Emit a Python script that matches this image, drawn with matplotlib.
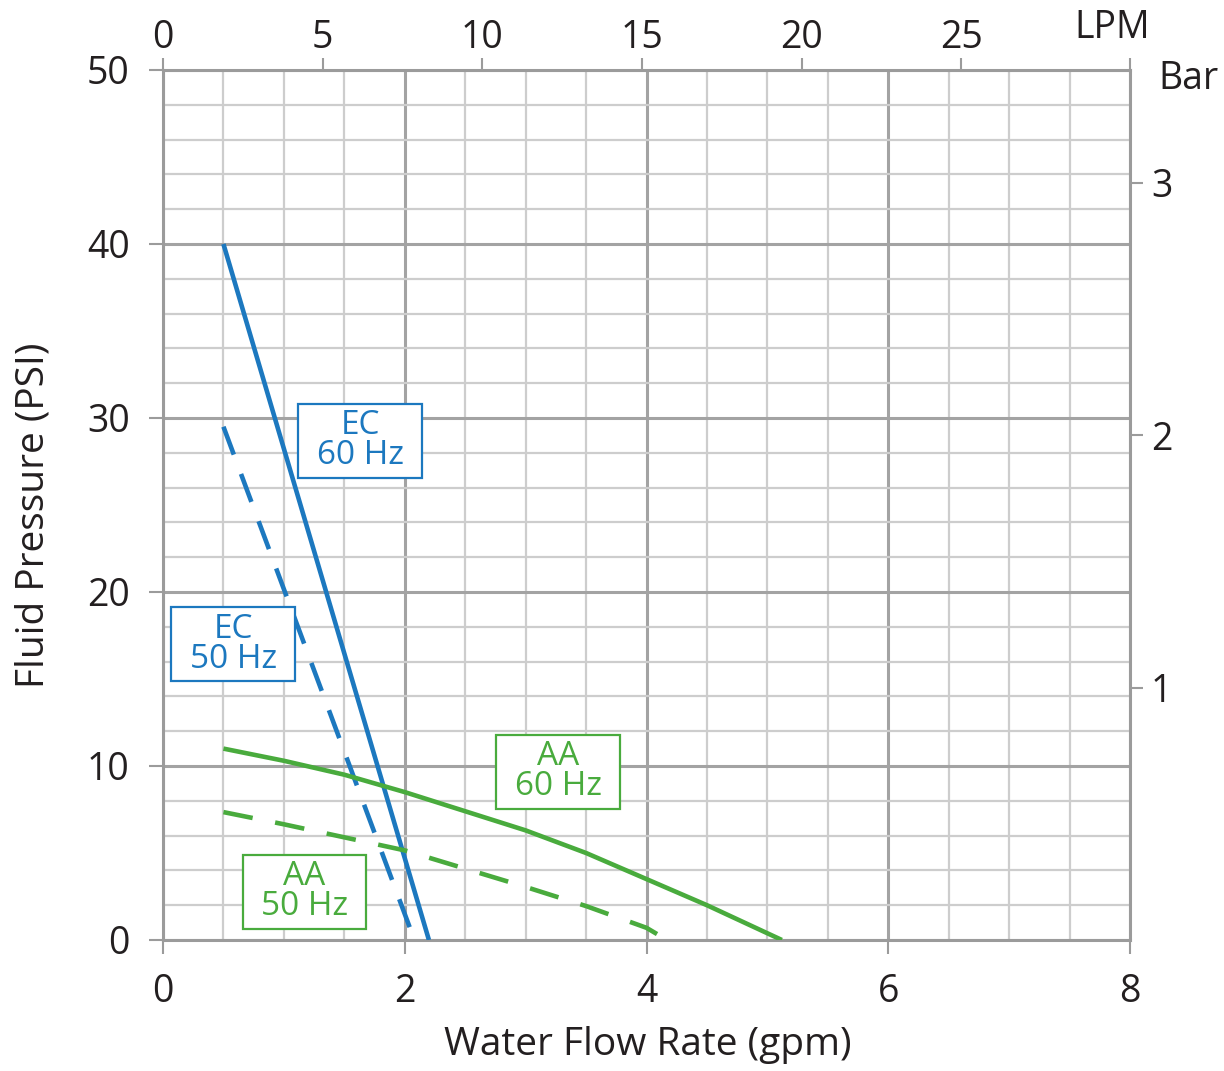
import matplotlib
matplotlib.use("Agg")
import matplotlib.pyplot as plt
from matplotlib.ticker import MultipleLocator, FixedLocator, FuncFormatter

plt.rcParams['font.family'] = ['Open Sans', 'DejaVu Sans']

# ---- data (gpm, PSI) ----
ec60_x = [0.5, 2.2]
ec60_y = [40.0, 0.0]
ec50_x = [0.5, 2.08]
ec50_y = [29.5, 0.0]
aa60_x = [0.5, 1.0, 1.5, 2.0, 2.5, 3.0, 3.5, 4.0, 4.5, 5.12]
aa60_y = [11.0, 10.3, 9.5, 8.5, 7.4, 6.3, 5.0, 3.5, 2.0, 0.0]
aa50_x = [0.5, 1.0, 1.5, 2.0, 2.5, 3.0, 3.5, 4.0, 4.17]
aa50_y = [7.35, 6.65, 5.9, 5.15, 4.1, 3.05, 1.95, 0.7, 0.0]

labels = ["EC\n60 Hz", "EC\n50 Hz", "AA\n60 Hz", "AA\n50 Hz"]
label_x = [1.63, 0.58, 3.27, 1.17]
label_y = [28.7, 17.0, 9.66, 2.76]

psi_ticks = [0, 10, 20, 30, 40, 50]
gpm_ticks = [0, 2, 4, 6, 8]
lpm_ticks = [0, 5, 10, 15, 20, 25]
bar_ticks = [1, 2, 3]

BLUE = '#1c78bf'
GREEN = '#49ab3d'
GRID_MAJ = '#a3a3a3'
GRID_MIN = '#cdcdcd'
SPINE = '#9b9b9b'
TXT = '#231f20'
TICK_FS = 27
LABEL_FS = 28

fig = plt.figure(figsize=(12.24, 10.71), dpi=100)
ax = fig.add_axes([163/1224, 1-940/1071, (1130-163)/1224, 870/1071])

ax.set_xlim(0, 8)
ax.set_ylim(0, 50)
ax.xaxis.set_major_locator(FixedLocator(gpm_ticks))
ax.yaxis.set_major_locator(FixedLocator(psi_ticks))
ax.xaxis.set_minor_locator(MultipleLocator(0.5))
ax.yaxis.set_minor_locator(MultipleLocator(2))
ax.set_axisbelow(True)
ax.grid(which='minor', color=GRID_MIN, lw=1.6)
ax.grid(which='major', color=GRID_MAJ, lw=2.2)
ax.tick_params(which='minor', length=0)
ax.tick_params(which='major', length=10, width=1.5, color=SPINE,
               labelsize=TICK_FS, labelcolor=TXT)
ax.tick_params(axis='x', pad=14)
ax.tick_params(axis='y', pad=14)
for s in ax.spines.values():
    s.set_color(SPINE)
    s.set_linewidth(2.2)

lw = 3.3
ax.plot(ec60_x, ec60_y, color=BLUE, lw=lw, solid_capstyle='butt', zorder=3)
ax.plot(ec50_x, ec50_y, color=BLUE, lw=lw, dashes=(6.5, 4.5), zorder=3)
ax.plot(aa60_x, aa60_y, color=GREEN, lw=lw, solid_capstyle='butt', zorder=3)
ax.plot(aa50_x, aa50_y, color=GREEN, lw=lw, dashes=(6.5, 5), zorder=3)

colors = [BLUE, BLUE, GREEN, GREEN]
for t, x, y, c in zip(labels, label_x, label_y, colors):
    ax.text(x, y, t, color=c, fontsize=24, ha='center', va='center',
            linespacing=0.88, zorder=5,
            bbox=dict(boxstyle='square,pad=0.55', mutation_aspect=0.3,
                      fc='white', ec=c, lw=1.6))

# top LPM axis
GPM2LPM = 3.78541
top = ax.secondary_xaxis('top', functions=(lambda g: g*GPM2LPM, lambda l: l/GPM2LPM))
top.xaxis.set_major_locator(FixedLocator(lpm_ticks + [8*GPM2LPM]))
top.xaxis.set_major_formatter(FuncFormatter(lambda v, p: f"{v:.0f}" if v in lpm_ticks else ""))
top.tick_params(length=9, width=1.5, color=SPINE, labelsize=TICK_FS, labelcolor=TXT, pad=0)
top.spines['top'].set_visible(False)

# right Bar axis
PSI2BAR = 1/14.5038
right = ax.secondary_yaxis('right', functions=(lambda p: p*PSI2BAR, lambda b: b/PSI2BAR))
right.yaxis.set_major_locator(FixedLocator(bar_ticks))
right.tick_params(length=9, width=1.5, color=SPINE, labelsize=TICK_FS, labelcolor=TXT, pad=6)
right.spines['right'].set_visible(False)

fig.text(1112/1224, 1-28/1071, "LPM", fontsize=TICK_FS, color=TXT, ha='center', va='center')
fig.text(1189/1224, 1-79/1071, "Bar", fontsize=TICK_FS, color=TXT, ha='center', va='center')

fig.text(648/1224, 1-1045/1071, "Water Flow Rate (gpm)", fontsize=LABEL_FS, color=TXT,
         ha='center', va='center')
fig.text(34/1224, 1-515/1071, "Fluid Pressure (PSI)", fontsize=LABEL_FS, color=TXT,
         ha='center', va='center', rotation=90)

fig.savefig("out.png", dpi=100, facecolor='white')
